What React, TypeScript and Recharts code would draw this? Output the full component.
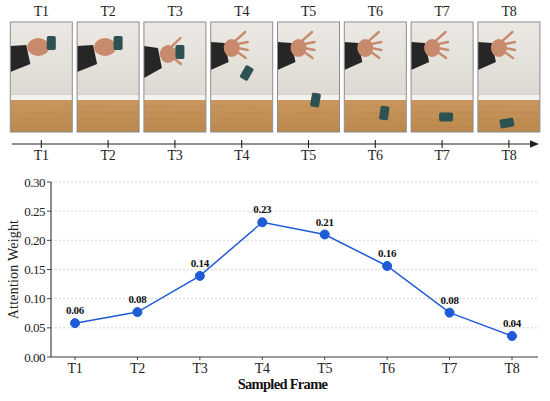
import React from 'react';
import { LineChart, Line, XAxis, YAxis, CartesianGrid, LabelList } from 'recharts';

// sampled frames and their attention weights
const frames = ['T1', 'T2', 'T3', 'T4', 'T5', 'T6', 'T7', 'T8'];
const attention = [0.058, 0.077, 0.139, 0.231, 0.21, 0.156, 0.076, 0.036];
const yTicks = [0, 0.05, 0.1, 0.15, 0.2, 0.25, 0.3];

const data = frames.map((frame, i) => ({ frame, weight: attention[i] }));

const SERIF = '"Liberation Serif", "Times New Roman", serif';
const BLUE = '#1f5bd6';
const AXIS = '#444';

// frame strip drawing (decoration only)
const FRAME_X0 = 10.3;
const FRAME_STEP = 66.8;
const FRAME_W = 62;
const FRAME_H = 110;
const FRAME_Y = 22;
// cup position inside each photo: x, y, rotation
const cupPose = [
  [41, 21, 0],
  [41, 21, 0],
  [36, 30, 0],
  [36, 51, 30],
  [38, 78, 10],
  [40, 91, 8],
  [35, 95, 90],
  [29, 101, 80]
];

const Photo = ({ i }: { i: number }) => {
  const x = FRAME_X0 + i * FRAME_STEP;
  const y = FRAME_Y;
  const [cx, cy, rot] = cupPose[i];
  const open = i >= 2;
  return (
    <g>
      <clipPath id={`clip-${i}`}>
        <rect x={x} y={y} width={FRAME_W} height={FRAME_H} />
      </clipPath>
      <g clipPath={`url(#clip-${i})`}>
        <rect x={x} y={y} width={FRAME_W} height={72} fill="url(#wall)" />
        <rect x={x} y={y + 72} width={FRAME_W} height={6} fill="#f3f2ef" />
        <line x1={x} x2={x + FRAME_W} y1={y + 72.5} y2={y + 72.5} stroke="#cdc8c0" strokeWidth={0.8} />
        <rect x={x} y={y + 78} width={FRAME_W} height={32} fill="url(#floor)" />
        {[84, 90, 97, 104].map((gy) => (
          <line key={gy} x1={x} x2={x + FRAME_W} y1={y + gy} y2={y + gy + 1} stroke="#b07c44" strokeWidth={0.5} opacity={0.5} />
        ))}
        {open ? (
          <g>
            <path
              d={`M${x} ${y + (i === 2 ? 24 : 20)} L${x + 14} ${y + (i === 2 ? 26 : 21)} L${x + 18} ${y + (i === 2 ? 46 : 40)} L${x} ${y + (i === 2 ? 56 : 48)} Z`}
              fill="#262626"
            />
            <ellipse cx={x + (i === 2 ? 24 : 21)} cy={y + (i === 2 ? 32 : 26)} rx={8} ry={9} fill="#c88a6c" />
            {[-14, -4, 4, 12].map((dy, k) => (
              <line
                key={k}
                x1={x + (i === 2 ? 27 : 24)}
                y1={y + (i === 2 ? 30 : 24) + dy / 3}
                x2={x + (i === 2 ? 40 : 38) - Math.abs(dy) / 4}
                y2={y + (i === 2 ? 30 : 24) + dy}
                stroke="#c88a6c"
                strokeWidth={2.4}
                strokeLinecap="round"
              />
            ))}
          </g>
        ) : (
          <g>
            <path d={`M${x} ${y + 24} L${x + 16} ${y + 23} L${x + 20} ${y + 42} L${x} ${y + 50} Z`} fill="#262626" />
            <ellipse cx={x + 28} cy={y + 25} rx={11} ry={9} fill="#c88a6c" />
          </g>
        )}
        <rect
          x={x + cx - 4.5}
          y={y + cy - 7}
          width={9}
          height={14}
          rx={1.8}
          fill="#2e5152"
          transform={`rotate(${rot} ${x + cx} ${y + cy})`}
        />
      </g>
      <rect x={x} y={y} width={FRAME_W} height={FRAME_H} fill="none" stroke="#8c8c8c" strokeWidth={1} />
    </g>
  );
};

const FrameStrip = () => (
  <svg width={550} height={168} style={{ position: 'absolute', left: 0, top: 0 }}>
    <defs>
      <linearGradient id="wall" x1="0" y1="0" x2="0" y2="1">
        <stop offset="0%" stopColor="#ece9e4" />
        <stop offset="100%" stopColor="#dedad3" />
      </linearGradient>
      <linearGradient id="floor" x1="0" y1="0" x2="0" y2="1">
        <stop offset="0%" stopColor="#c9975e" />
        <stop offset="100%" stopColor="#bb884e" />
      </linearGradient>
    </defs>
    {frames.map((f, i) => {
      const cx = FRAME_X0 + i * FRAME_STEP + FRAME_W / 2;
      return (
        <g key={f}>
          <text x={cx} y={16} textAnchor="middle" fontFamily={SERIF} fontSize={14} letterSpacing={-0.3} fill="#222">
            {f}
          </text>
          <Photo i={i} />
          <line x1={cx} x2={cx} y1={140} y2={148} stroke="#222" strokeWidth={1.1} />
          <text x={cx} y={159.5} textAnchor="middle" fontFamily={SERIF} fontSize={14} letterSpacing={-0.3} fill="#222">
            {f}
          </text>
        </g>
      );
    })}
    <line x1={12} x2={532} y1={144} y2={144} stroke="#222" strokeWidth={1.2} />
    <polygon points="539,144 530,140.3 530,147.7" fill="#222" />
  </svg>
);

const App = () => (
  <div style={{ position: 'absolute', left: 0, top: 0, width: 550, height: 401, background: '#fff' }}>
    <LineChart
      width={550}
      height={401}
      data={data}
      margin={{ top: 182, right: 12, bottom: 12, left: 0 }}
      style={{ position: 'absolute', left: 0, top: 0 }}
    >
      <CartesianGrid vertical={false} stroke="#d6d6d6" strokeDasharray="2 2" />
      <XAxis
        dataKey="frame"
        padding={{ left: 24, right: 26 }}
        height={32}
        tickSize={3}
        tickMargin={3}
        axisLine={{ stroke: AXIS, strokeWidth: 1.2 }}
        tickLine={{ stroke: AXIS }}
        tick={{ fill: '#222', fontSize: 14, fontFamily: SERIF, letterSpacing: -0.3 }}
        label={{
          value: 'Sampled Frame',
          position: 'insideBottom',
          offset: 0,
          dx: -12,
          fill: '#111',
          fontSize: 14.5,
          fontWeight: 'bold',
          fontFamily: SERIF,
          letterSpacing: -0.7
        }}
      />
      <YAxis
        width={51}
        domain={[0, 0.3]}
        ticks={yTicks}
        tickFormatter={(v: number) => v.toFixed(2)}
        tickSize={4}
        tickMargin={2}
        axisLine={{ stroke: AXIS, strokeWidth: 1.2 }}
        tickLine={{ stroke: AXIS }}
        tick={{ fill: '#222', fontSize: 13, fontFamily: SERIF, letterSpacing: -0.5 }}
        label={{
          value: 'Attention Weight',
          angle: -90,
          position: 'insideLeft',
          offset: 13,
          textAnchor: 'middle',
          fill: '#222',
          fontSize: 14,
          fontFamily: SERIF,
          letterSpacing: 0.2
        }}
      />
      <Line
        type="linear"
        dataKey="weight"
        stroke={BLUE}
        strokeWidth={1.5}
        dot={{ r: 4.5, fill: BLUE, stroke: BLUE, strokeWidth: 1 }}
        activeDot={false}
        isAnimationActive={false}
      >
        <LabelList
          dataKey="weight"
          position="top"
          offset={9}
          formatter={(v: number) => v.toFixed(2)}
          style={{ fill: '#111', fontSize: 11, fontWeight: 'bold', fontFamily: SERIF, letterSpacing: -0.3 }}
        />
      </Line>
    </LineChart>
    <FrameStrip />
  </div>
);

export default App;
